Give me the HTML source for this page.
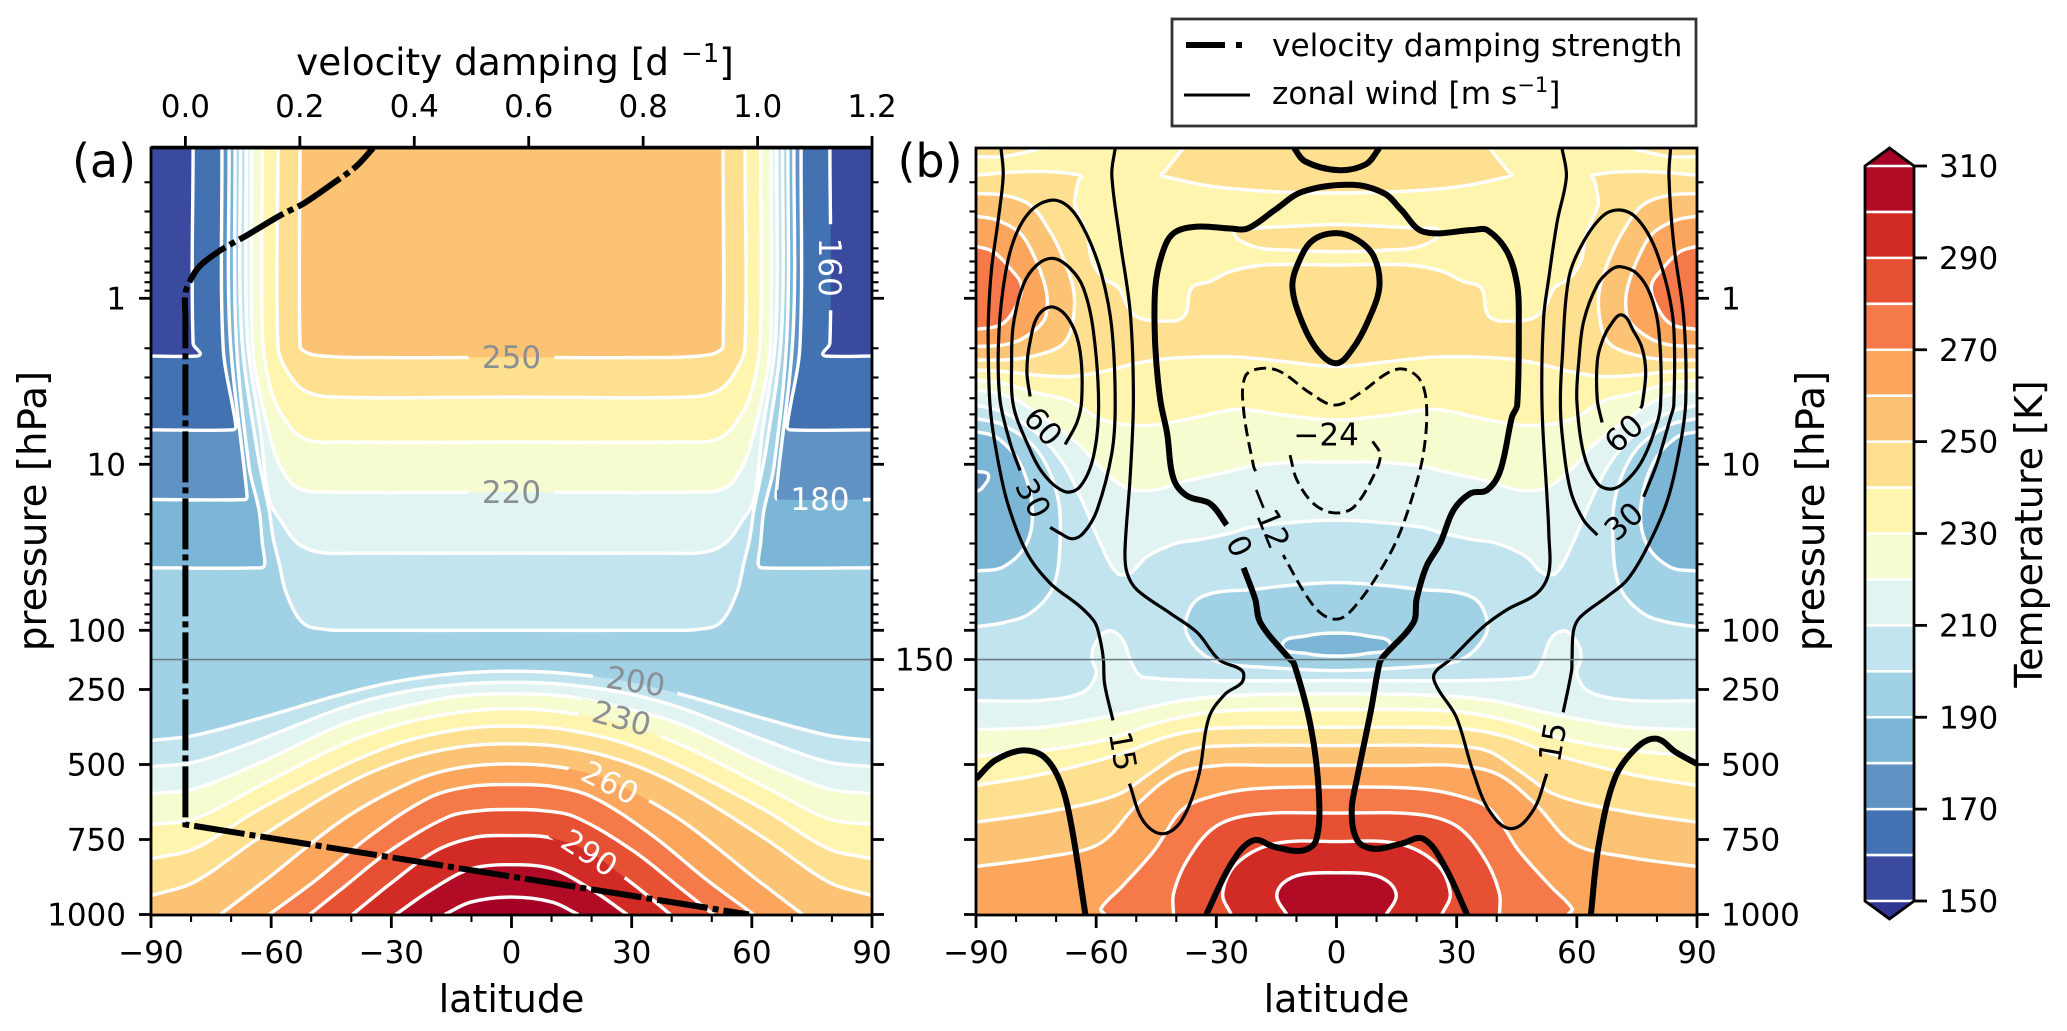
<!DOCTYPE html>
<html lang="en">
<head>
<meta charset="utf-8">
<title>Temperature, zonal wind and velocity damping</title>
<style>
html,body{margin:0;padding:0;background:#fff;width:2067px;height:1031px;overflow:hidden}
svg{display:block}
text{font-family:"DejaVu Sans","Liberation Sans",sans-serif;fill:#000}
</style>
</head>
<body>
<svg id="figure" width="2067" height="1031" viewBox="0 0 2067 1031">
  <defs>
    <clipPath id="clip-a"><rect x="151" y="148" width="721" height="767"/></clipPath>
    <clipPath id="clip-b"><rect x="976" y="148" width="721" height="767"/></clipPath>
  </defs>
  <g id="panel-a"></g>
  <g id="panel-b"></g>
  <g id="colorbar"></g>
  <g id="legend">
    <rect x="1172" y="19" width="524" height="107" fill="#fff" stroke="#333" stroke-width="2.8"/>
    <path d="M1186 45H1225M1236 45H1242" stroke="#000" stroke-width="6" fill="none"/>
    <text x="1272" y="56" font-size="31.2">velocity damping strength</text>
    <path d="M1184 95H1250" stroke="#000" stroke-width="3" fill="none"/>
    <text x="1272" y="104" font-size="31.2">zonal wind [m s<tspan dy="-12" font-size="21">−1</tspan><tspan dy="12">]</tspan></text>
  </g>
</svg>
<script>
/* ---------- shared axis data ---------- */
const latTicks = [-90, -60, -30, 0, 30, 60, 90];
const latMinorTicks = [-80, -70, -50, -40, -20, -10, 10, 20, 40, 50, 70, 80];
const pressureTicks = [1, 10, 100, 250, 500, 750, 1000];
const pressureMinorTicks = [0.2, 0.3, 0.4, 0.5, 0.6, 0.7, 0.8, 0.9, 2, 3, 4, 5, 6, 7, 8, 9, 20, 30, 40, 50, 60, 70, 80, 90];
const dampingTicks = [0.0, 0.2, 0.4, 0.6, 0.8, 1.0, 1.2];
const colorbarLevels = [150, 160, 170, 180, 190, 200, 210, 220, 230, 240, 250, 260, 270, 280, 290, 300, 310];
const colorbarTicks = [150, 170, 190, 210, 230, 250, 270, 290, 310];

/* ---------- velocity damping profile (panel a) ---------- */
const dampPressure = [0.1245, 0.161, 0.203, 0.268, 0.315, 0.416, 0.512, 0.63, 0.741, 0.93, 1.3, 700, 1000];
const dampRate = [0.328, 0.298, 0.258, 0.207, 0.167, 0.108, 0.062, 0.027, 0.012, 0, 0, 0, 0.985];

/* ---------- panel (a) temperature contours: [latitude, hPa] ---------- */
const aSide160 = [[-79.5,0.1245],[-79.5,1.86],[-77.7,2.15],[-78.4,2.23],[-90,2.23]];
const aSide170 = [[-72.3,0.1245],[-72,1.96],[-68.8,5.9],[-69.5,6.2],[-90,6.2]];
const aSide180 = [[-70.5,0.1245],[-70.3,1.62],[-66,15.6],[-66.5,16.3],[-90,16.3]];
const aSide190 = [[-69,0.1245],[-68.8,1.62],[-65.5,10.4],[-63,19],[-62.2,30],[-61.6,40],[-62.5,42],[-90,42]];
const aBox200 = [[-67.7,0.1245],[-67.4,1.62],[-63.5,8.2],[-60.5,19],[-59.5,27.9],[-58,39.5],[-56.2,60],[-51.9,91],[-46.1,99],[-40.4,100],[0,100]];
const aBox210 = [[-66.2,0.1245],[-66,1.62],[-62.6,6.5],[-60.5,16.4],[-57.6,21.9],[-53.3,30],[-47.6,34],[-39,34.3],[0,34.3]];
const aBox220 = [[-64.8,0.1245],[-64.8,1.5],[-64.1,2.59],[-60.5,6.5],[-57.6,10.4],[-53.3,13.9],[-44.7,14.7],[0,14.7]];
const aBox230 = [[-62.2,0.1245],[-62.2,1.62],[-60.5,3.24],[-57.6,4.9],[-51.9,6.97],[-41.8,7.34],[0,7.34]];
const aBox240 = [[-58.3,0.1245],[-58.3,1.96],[-56.2,2.7],[-51.9,3.57],[-44.7,3.93],[0,3.93]];
const aBox250 = [[-52.8,0.1245],[-52.8,1.95],[-51.5,2.1],[-49,2.2],[-40,2.27],[0,2.27]];
const aBell200 = [[-90,420],[-79.2,403],[-63.4,348],[-41.8,264],[-27.4,220],[-13.1,196],[0,189]];
const aBell210 = [[-90,507],[-79.2,492],[-63.4,420],[-41.8,309],[-27.4,259],[-13.1,233],[0,226]];
const aBell220 = [[-90,598],[-79.2,581],[-63.4,498],[-41.8,364],[-27.4,309],[-13.1,272],[0,264]];
const aBell230 = [[-90,700],[-79.2,681],[-63.4,575],[-41.8,431],[-27.4,364],[-13.1,326],[0,314]];
const aBell240 = [[-90,814],[-79.2,781],[-63.4,653],[-41.8,503],[-27.4,426],[-13.1,383],[0,372]];
const aBell250 = [[-90,937],[-79.2,892],[-63.4,748],[-41.8,570],[-27.4,487],[-13.1,442],[0,431]];
const aBell260 = [[-72.7,1000],[-60.5,876],[-41.8,681],[-24.6,556],[-13.1,511],[0,498]];
const aBell270 = [[-60.5,1000],[-49,887],[-34.6,731],[-20.3,609],[-10.2,573],[0,567]];
const aBell280 = [[-50.4,1000],[-41.8,908],[-30.3,787],[-15.9,675],[-7.3,653],[0,650]];
const aBell290 = [[-39.7,1000],[-30.3,898],[-18.8,787],[-8.8,742],[0,737]];
const aBell300 = [[-28.9,1000],[-20.3,920],[-10.2,848],[0,834]];
const aBell310 = [[-16.7,1000],[-10.2,959],[0,942]];
const aLabelText = ['250', '220', '160', '180', '200', '230', '260', '290'];
const aLabelLat = [0, 0, 79.5, 77, 31, 27.5, 24.6, 19.5];
const aLabelPressure = [2.25, 14.7, 0.65, 16.2, 222, 345, 560, 794];

/* ---------- panel (b) temperature contours ---------- */
const bUpper210 = [[-90,4.4],[-83.2,4.85],[-74.8,6.5],[-68.2,9.9],[-63.2,17.2],[-59,29.8],[-54.8,45.2],[-51.5,45.2],[-47.3,36],[-39.8,29.8],[-34,28.4],[-26.5,26],[-21.6,24],[-9.1,22.2],[0,21.7]];
const bUpper220 = [[-90,3.57],[-84.8,3.72],[-79.8,4.1],[-72.3,5.41],[-64.8,7.4],[-58.2,10.9],[-52.3,13.9],[-45.7,14.3],[-38.2,12.7],[-26.5,11],[-21.6,10.3],[-10.8,9.7],[0,9.7]];
const bUpper230 = [[-90,3.11],[-83.2,3.25],[-74.8,3.72],[-67.3,4.1],[-58.2,5.41],[-48.2,5.85],[-38.2,5.41],[-26.5,4.71],[-21.6,4.71],[-13.3,5.05],[0,5.41]];
const bZone240Bottom = [[-90,2.7],[-83.2,2.76],[-74.8,2.9],[-66.5,2.96],[-58.2,2.76],[-49.8,2.46],[-41.5,2.3],[-26,2.25],[-13.3,2.4],[0,2.58]];
const bZone240Top = [[-90,0.181],[-79,0.173],[-70.7,0.173],[-64.6,0.18],[-63.6,0.185],[-64.3,0.193],[-65,0.228],[-65.3,0.274],[-62.3,0.416],[-61,0.6],[-58.2,0.755],[-54.4,0.865],[-52.3,1.1],[-49.8,1.29],[-44.8,1.37],[-38.2,1.29],[-36.1,0.865],[-31.5,0.79],[-26.5,0.69],[-18,0.63],[0,0.63]];
const bTop240 = [[-38.2,0.1245],[-43,0.173],[-43.8,0.181],[-42.8,0.185],[-32,0.21],[-18,0.226],[0,0.232]];
const bCorner240 = [[-90,0.14],[-83.2,0.14],[-73.2,0.1245]];
const bLens240 = [[-25.6,0.397],[-20.8,0.486],[-12.6,0.512],[0,0.524],[12.6,0.512],[20.8,0.486],[25.6,0.397],[20.8,0.38],[9.9,0.367],[0,0.36],[-9.9,0.367],[-20.8,0.38]];
const bPolar250 = [[-90,0.234],[-83.2,0.239],[-76.5,0.274],[-71.5,0.397],[-68.2,0.575],[-65.7,0.873],[-65.5,1.21],[-66.9,1.7],[-69.8,2.0],[-76.5,2.25],[-83.2,2.35],[-90,2.35]];
const bPolar260 = [[-90,0.32],[-84.8,0.338],[-79,0.406],[-75.7,0.546],[-72.8,0.832],[-72.2,1.1],[-73.2,1.38],[-78.2,1.74],[-83.2,1.91],[-90,1.95]];
const bPolar270 = [[-90,0.486],[-85.7,0.524],[-81.5,0.66],[-78.6,0.85],[-80.7,1.2],[-84,1.45],[-90,1.54]];
const bPolar200 = [[-90,5.3],[-83.2,5.8],[-74.8,8.2],[-69.8,15],[-69,28.4],[-70.7,54.5],[-76.5,79],[-83.2,90],[-90,95]];
const bPolar190 = [[-90,6.35],[-84.8,6.9],[-79,9.9],[-76,18],[-77.3,29.8],[-83.2,41.5],[-90,44]];
const bPolar180 = [[-90,11],[-86.9,11.6],[-88.6,14],[-90,14.6]];
const bCentre200 = [[0,51.6],[-13,54],[-21.6,57],[-30,59],[-35,66],[-37.5,85],[-37.3,106],[-33.2,140],[-27.7,164],[-18.1,176],[0,187]];
const bCentre190 = [[0,104],[-7.4,108],[-13.5,123],[-7.4,138],[0,143]];
const bLower210 = [[-90,287],[-74.3,287],[-63.3,259],[-60,198],[-61,150],[-60.6,125],[-57.2,101],[-53.7,111],[-51.5,150],[-50,190],[-48.3,209],[-31.8,220],[0,220]];
const bLower220 = [[-90,384],[-72.9,375],[-53.7,331],[-38.7,287],[-25,270],[0,264]];
const bLower230 = [[-90,472],[-72.9,453],[-56.5,414],[-45.5,364],[-31.8,326],[-18.1,317],[0,317]];
const bLower240 = [[-90,570],[-72.9,531],[-53.7,464],[-42.8,409],[-31.8,381],[-18.1,376],[0,376]];
const bLower250 = [[-90,692],[-72.9,659],[-55.1,603],[-45.5,520],[-37.3,453],[-25,437],[0,437]];
const bLower260 = [[-90,840],[-72.9,809],[-59.2,764],[-49.6,631],[-40,531],[-29,503],[-18.1,503],[0,503]];
const bLower270 = [[-57.8,1000],[-58.8,980],[-53.7,909],[-45.5,787],[-38.7,653],[-31.8,609],[-20.8,581],[0,575]];
const bLower280 = [[-40.7,1000],[-40.7,931],[-37.3,820],[-30.4,709],[-20.8,667],[0,662]];
const bLower290 = [[-26.3,1000],[-28.4,931],[-25,831],[-15.4,764],[0,757]];
const bLower300 = [[-12.4,1000],[-14.9,940],[-13.3,895],[-8.5,866],[0,861]];

/* ---------- panel (b) zonal wind contours ---------- */
const windZeroTop = [[-10.6,0.1245],[-7.8,0.15],[0.4,0.169],[7.3,0.156],[10.7,0.1245]];
const windZeroEgg = [[0,0.405],[-5.8,0.445],[-9.2,0.588],[-11,0.85],[-8.5,1.41],[-4.4,2.1],[0,2.46],[3.8,2.05],[8,1.35],[10.7,0.85],[9.3,0.56],[5.2,0.445]];
const windZeroA = [[-32.5,1000],[-26.3,831],[-20.8,753],[-15.4,775],[-8.5,787],[-5.1,753],[-4.4,598],[-6.4,376],[-10.6,164],[-12,146],[-19,90],[-20.3,65],[-23.2,42]];
const windZeroB = [[-27.4,23.2],[-31.5,17.3],[-37.3,15.5],[-40.7,12.2],[-42.3,6.5],[-44,4.1],[-45.25,1.91],[-45.25,0.873],[-43.6,0.546],[-40.7,0.406],[-34.8,0.37],[-26.5,0.38],[-22.2,0.38],[-15.4,0.294],[-8.5,0.228],[3.8,0.207],[12,0.234],[16.2,0.294],[21.7,0.397],[34,0.388],[37.6,0.388],[42.6,0.524],[45.1,0.83],[45.5,1.32],[45.1,4.4],[43.8,5.2],[40.9,10.9],[37.6,14.3],[33.4,15],[29.2,18.9],[25.9,29.8],[22.5,41],[20,65],[19.2,90],[11.7,144],[10.7,164],[8.6,320],[5.2,542],[3.8,653],[5.2,753],[9.3,781],[16.2,764],[21.7,748],[27.1,842],[32.6,1000]];
const windZeroLeft = [[-90,548],[-85.3,487],[-78.4,453],[-72.9,476],[-68.8,564],[-66.1,709],[-62.7,1000]];
const windZeroRight = [[63.5,1000],[65.5,764],[69.6,542],[75.1,442],[79.9,414],[84.7,459],[90,498]];
const wind15LeftA = [[-83.75,0.1245],[-83.2,0.181],[-84.4,0.33],[-86.1,0.66],[-86.9,1.32],[-86.9,2.4],[-86.5,4.4],[-85.3,7.4],[-82.3,16.5],[-77.3,34.2],[-71.5,52],[-64,72],[-60.3,90],[-59,114],[-58.2,150],[-57.9,231],[-55.8,353]];
const wind15LeftB = [[-51.7,564],[-48.3,687],[-43.5,731],[-38.7,687],[-34.5,542],[-31.8,342],[-27.7,264],[-23.6,226],[-23.6,187],[-29.3,151],[-34.8,103],[-41.5,79],[-49.8,57],[-52.3,45],[-52.8,33],[-51.5,11.8],[-50.7,4.1],[-51.5,1.21],[-54,0.455],[-56.1,0.181],[-55.25,0.1245]];
const wind15RightA = [[56.3,0.1245],[57.4,0.185],[55.1,0.345],[53,0.755],[51.7,1.32],[51.3,4.4],[52.6,16.5],[53,26],[53,45],[50,60],[42.6,75],[36.7,95],[28.4,150],[24.4,198],[25.1,242],[29.9,342],[34,520],[38.1,653],[43.6,714],[49.1,653],[52.5,531]];
const wind15RightB = [[56.6,326],[58.7,187],[58.8,150],[59.2,100],[60.9,83],[67.6,62.6],[72.6,49.6],[77.6,31.5],[82.6,16.5],[85.9,7.4],[87.2,4.1],[86.7,1.32],[84.2,0.477],[83,0.187],[83.4,0.1245]];
const wind30Left = [[-79,10.9],[-81.5,7.4],[-84,4.1],[-84.4,1.91],[-83.2,0.865],[-80.7,0.455],[-76.5,0.3],[-71,0.256],[-66.5,0.287],[-62.3,0.416],[-58.6,0.726],[-56.1,1.51],[-55.25,4.4],[-56.1,8.6],[-59.8,18.9],[-63.2,26],[-66,28.1],[-69,26],[-71.5,24]];
const wind45Left = [[-70.7,0.575],[-66.5,0.66],[-63.2,0.865],[-60.7,1.58],[-59.4,4.4],[-60.7,9],[-64,13.6],[-67.8,14.6],[-73.2,11.4],[-77.3,7.4],[-80.7,4.4],[-81.1,2.4],[-80.7,1.45],[-78.2,0.83],[-74.8,0.63]];
const wind60Left = [[-67.75,7.6],[-64.8,5.6],[-63.6,4.1],[-64,2.1],[-66.5,1.38],[-70.7,1.13],[-74.4,1.26],[-76.5,1.82],[-77.3,2.76],[-76.5,3.9]];
const wind30Right = [[65.1,26.7],[61.7,21.7],[58.4,14.3],[56.3,6.5],[55.9,4.1],[56.3,2.4],[58,0.755],[61.7,0.455],[66.7,0.316],[70.9,0.294],[75,0.33],[79.2,0.477],[82.6,0.865],[84.2,1.51],[84.2,4.4],[83.4,5.2],[80,9.9],[76.7,15.7]];
const wind45Right = [[70.9,0.645],[75,0.71],[78.4,0.955],[80.5,1.58],[80.9,4.4],[79.2,6.5],[75.9,9.9],[71.7,13],[68.4,14.1],[65.1,13],[61.7,8.6],[60,4.1],[60.5,2.4],[61.7,1.38],[65.1,0.83],[68.4,0.676]];
const wind60Right = [[66.3,5.6],[65.1,4.1],[65.1,2.4],[66.3,1.82],[68.4,1.45],[71.3,1.26],[74.2,1.58],[76.3,2],[77.2,2.8],[76.3,4.4],[75.9,4.6]];
const windMinus12 = [[-20.2,11],[-20.7,10.3],[-23.2,4.71],[-22.8,2.96],[-19.1,2.65],[-14.1,2.76],[-6.6,3.72],[-0.4,4.4],[5.9,3.72],[12.6,2.83],[16.7,2.67],[20.9,3.11],[22.5,4.5],[21.7,8.6],[19.2,15],[15.1,28.4],[10,47.5],[5,70],[0.9,85],[-3.3,81],[-7.4,62.6],[-13.3,35.2]];
const windMinus24 = [[-11.6,8.8],[-9.9,12.4],[-5.8,17.2],[-0.8,19.6],[4.2,18.2],[9.2,11.8],[10.9,8.8],[8.8,7.14]];
const windLabelText = ['60', '30', '60', '30', '15', '15', '0', '−12', '−24'];
const windLabelLat = [-73.2, -75.7, 71.7, 71.7, -53.3, 53.9, -24.2, -17, -2.6];
const windLabelPressure = [5.9, 16, 6.5, 22, 455, 425, 31, 20.7, 6.6];

/* ---------- palette, keyed by the band's lower temperature ---------- */
const bandColors = {140:'#313695',150:'#3a4b9f',160:'#4272b2',170:'#6092c3',180:'#7bb6d6',190:'#a1d1e5',200:'#c2e4ef',210:'#e2f4f1',220:'#f6fbd0',230:'#fff5ae',240:'#fee090',250:'#fdc374',260:'#fca55d',270:'#f67a49',280:'#e65133',290:'#d22b26',300:'#b10b26',310:'#a50026'};

/* ---------- axis functions ---------- */
const TOP_P = 0.1245, BOTTOM_P = 1000;
function xA(lat){ return 151 + (lat + 90) * 721 / 180; }
function xB(lat){ return 976 + (lat + 90) * 721 / 180; }
function yP(p){ return p <= 150 ? 298.3 + 166 * Math.log10(p) : 659.5 + (p - 150) * 0.3; }
function xDamp(d){ return 185.4 + d * 572.2; }
function yCbar(t){ return 901 - (t - 150) * 735 / 160; }

/* ---------- helpers ---------- */
const root = document.getElementById('figure');
function make(parent, tag, attrs, text){
  const el = document.createElementNS(root.namespaceURI, tag);
  for (const k in attrs) el.setAttribute(k, attrs[k]);
  if (text !== undefined) el.textContent = text;
  parent.appendChild(el);
  return el;
}
function tag(el, name){
  
  
  return el;
}
function mirror(half){
  const right = half.slice().reverse().filter(q => q[0] !== 0).map(q => [-q[0], q[1]]);
  return half.concat(right);
}
function mirrorClosed(half){ return mirror(half); }
function flip(pts){ return pts.map(q => [-q[0], q[1]]); }
function curve(px, closed){
  const n = px.length, tan = [];
  for (let i = 0; i < n; i++){
    const a = closed ? px[(i - 1 + n) % n] : px[Math.max(i - 1, 0)];
    const b = closed ? px[(i + 1) % n] : px[Math.min(i + 1, n - 1)];
    const dx = b[0] - a[0], dy = b[1] - a[1], len = Math.hypot(dx, dy) || 1;
    tan.push([dx / len, dy / len]);
  }
  let d = 'M' + px[0][0].toFixed(1) + ' ' + px[0][1].toFixed(1);
  const segs = closed ? n : n - 1;
  for (let i = 0; i < segs; i++){
    const j = (i + 1) % n;
    const L = Math.hypot(px[j][0] - px[i][0], px[j][1] - px[i][1]) / 3;
    d += 'C' + (px[i][0] + tan[i][0] * L).toFixed(1) + ' ' + (px[i][1] + tan[i][1] * L).toFixed(1) + ' ' +
      (px[j][0] - tan[j][0] * L).toFixed(1) + ' ' + (px[j][1] - tan[j][1] * L).toFixed(1) + ' ' +
      px[j][0].toFixed(1) + ' ' + px[j][1].toFixed(1);
  }
  return closed ? d + 'Z' : d;
}
function toPx(pts, xf){ return pts.map(q => [xf(q[0]), yP(q[1])]); }
function area(g, pts, level, closers, xf, name){
  let d = curve(toPx(pts, xf), false);
  (closers || []).forEach(c => { d += 'L' + xf(c[0]).toFixed(1) + ' ' + yP(c[1]).toFixed(1); });
  d += 'Z';
  const el = make(g, 'path', {d: d, fill: bandColors[level]});
  tag(el, name);
}
function blob(g, pts, level, xf, name){
  const el = make(g, 'path', {d: curve(toPx(pts, xf), true), fill: bandColors[level]});
  tag(el, name);
}
function line(g, pts, xf, stroke, width, name, extra){
  const attrs = {d: curve(toPx(pts, xf), false), fill: 'none', stroke: stroke, 'stroke-width': width, 'stroke-linejoin': 'round'};
  for (const k in (extra || {})) attrs[k] = extra[k];
  const el = make(g, 'path', attrs);
  tag(el, name);
}
function ring(g, pts, xf, stroke, width, name){
  const el = make(g, 'path', {d: curve(toPx(pts, xf), true), fill: 'none', stroke: stroke, 'stroke-width': width});
  tag(el, name);
}
function tickLine(g, x1, y1, x2, y2, w, name){
  const el = make(g, 'line', {x1: x1, y1: y1, x2: x2, y2: y2, stroke: '#000', 'stroke-width': w});
  tag(el, name);
}
function txt(g, x, y, s, size, anchor, name, fill){
  const el = make(g, 'text', {x: x, y: y, 'font-size': size, 'text-anchor': anchor}, s);
  if (fill) el.style.fill = fill;
  tag(el, name);
  return el;
}
function fmtLat(v){ return v < 0 ? '−' + Math.abs(v) : String(v); }
function vText(g, x, y, s, size, name){
  const el = make(g, 'text', {transform: 'translate(' + x + ' ' + y + ') rotate(-90)', 'font-size': size, 'text-anchor': 'middle'}, s);
  tag(el, name);
}

const TICK_FONT = 31, LABEL_FONT = 38;
const WHITE_W = 3.4, THIN_W = 3.2, THICK_W = 6;

/* shared bottom axis + pressure ticks */
function axes(g, xf, left, right, sideName){
  latTicks.forEach(v => {
    tickLine(g, xf(v), 915, xf(v), 928, 2.8, sideName + '-x-tick');
    txt(g, xf(v), 963, fmtLat(v), TICK_FONT, 'middle', sideName + '-x-tick-label');
  });
  latMinorTicks.forEach(v => { tickLine(g, xf(v), 915, xf(v), 922, 2.1, sideName + '-x-minor-tick'); });
  pressureMinorTicks.forEach(p => {
    tickLine(g, left, yP(p), left - 6.5, yP(p), 2.1, sideName + '-left-minor-tick');
    tickLine(g, right, yP(p), right + 6.5, yP(p), 2.1, sideName + '-right-minor-tick');
  });
  pressureTicks.forEach(p => {
    tickLine(g, left, yP(p), left - 12, yP(p), 2.8, sideName + '-left-tick');
    tickLine(g, right, yP(p), right + 12, yP(p), 2.8, sideName + '-right-tick');
  });
}

/* ---------- panel (a) ---------- */
(function(){
  const g = document.getElementById('panel-a');
  const plot = make(g, 'g', {'clip-path': 'url(#clip-a)'});
  tag(plot, 'panel-a-plot');
  const bg = make(plot, 'rect', {x: 151, y: 148, width: 721, height: 767, fill: bandColors[190]});
  tag(bg, 'panel-a-background');
  const sides = [[aSide190, 180], [aSide180, 170], [aSide170, 160], [aSide160, 150]];
  sides.forEach(s => {
    area(plot, s[0], s[1], [[-90, TOP_P]], xA, 'temperature-band-' + s[1] + '-left');
    area(plot, flip(s[0]), s[1], [[90, TOP_P]], xA, 'temperature-band-' + s[1] + '-right');
  });
  const boxes = [[aBox200, 200], [aBox210, 210], [aBox220, 220], [aBox230, 230], [aBox240, 240], [aBox250, 250]];
  boxes.forEach(b => area(plot, mirror(b[0]), b[1], [], xA, 'temperature-band-' + b[1] + '-stratosphere'));
  const bells = [[aBell200, 200], [aBell210, 210], [aBell220, 220], [aBell230, 230], [aBell240, 240], [aBell250, 250], [aBell260, 260], [aBell270, 270], [aBell280, 280], [aBell290, 290], [aBell300, 300], [aBell310, 310]];
  bells.forEach(b => area(plot, mirror(b[0]), b[1], [[90, BOTTOM_P], [-90, BOTTOM_P]], xA, 'temperature-band-' + b[1] + '-troposphere'));

  /* white contour lines with label gaps */
  const labelAngle = [0, 0, 90, 0, 9, 15, 27, 33];
  const defs = make(plot, 'mask', {id: 'gap-a', maskUnits: 'userSpaceOnUse', x: 0, y: 0, width: 2067, height: 1031});
  make(defs, 'rect', {x: 0, y: 0, width: 2067, height: 1031, fill: '#fff'});
  aLabelText.forEach((s, i) => {
    make(defs, 'rect', {x: -43, y: -9, width: 86, height: 18, fill: '#000', transform: 'translate(' + xA(aLabelLat[i]) + ' ' + yP(aLabelPressure[i]) + ') rotate(' + labelAngle[i] + ')'});
  });
  const lines = make(plot, 'g', {mask: 'url(#gap-a)'});
  tag(lines, 'temperature-contours');
  sides.forEach(s => {
    line(lines, s[0], xA, '#fff', WHITE_W, 'temperature-contour-left');
    line(lines, flip(s[0]), xA, '#fff', WHITE_W, 'temperature-contour-right');
  });
  boxes.forEach(b => line(lines, mirror(b[0]), xA, '#fff', WHITE_W, 'temperature-contour-' + b[1]));
  bells.forEach(b => line(lines, mirror(b[0]), xA, '#fff', WHITE_W, 'temperature-contour-' + b[1]));

  const labelColor = ['#8a8f94', '#8a8f94', '#fff', '#fff', '#8a8f94', '#8a8f94', '#fff', '#fff'];
  aLabelText.forEach((s, i) => {
    const el = make(plot, 'text', {transform: 'translate(' + xA(aLabelLat[i]) + ' ' + yP(aLabelPressure[i]) + ') rotate(' + labelAngle[i] + ')', y: 11, 'font-size': TICK_FONT, 'text-anchor': 'middle'}, s);
    el.style.fill = labelColor[i];
    tag(el, 'contour-label-' + s);
  });

  /* 150 hPa separator */
  const sep = make(g, 'line', {x1: 151, x2: 872, y1: yP(150), y2: yP(150), stroke: '#6d7c86', 'stroke-width': 1.6});
  tag(sep, 'panel-a-150hpa-line');

  /* damping profile */
  const last = dampRate.length - 1;
  const upper = dampRate.slice(0, last).map((d, i) => [xDamp(d), yP(dampPressure[i])]);
  const dampD = curve(upper, false) + 'L' + xDamp(dampRate[last]).toFixed(1) + ' ' + yP(dampPressure[last]).toFixed(1);
  const damp = make(plot, 'path', {d: dampD, fill: 'none', stroke: '#000', 'stroke-width': 6, 'stroke-dasharray': '51 5 6 5', 'stroke-dashoffset': 22});
  tag(damp, 'velocity-damping-line');

  /* frame + axes */
  const frame = make(g, 'rect', {x: 151, y: 148, width: 721, height: 767, fill: 'none', stroke: '#000', 'stroke-width': 2.8});
  tag(frame, 'panel-a-frame');
  const topSpine = make(g, 'line', {x1: 151, x2: 872, y1: 147.5, y2: 147.5, stroke: '#000', 'stroke-width': 3.4});
  tag(topSpine, 'panel-a-top-spine');
  axes(g, xA, 151, 872, 'panel-a');
  tickLine(g, 872, yP(150), 884, yP(150), 2.8, 'panel-a-150hpa-tick');
  pressureTicks.forEach(p => txt(g, 126, yP(p) + 11, String(p), TICK_FONT, 'end', 'panel-a-y-tick-label'));
  dampingTicks.forEach(d => {
    tickLine(g, xDamp(d), 148, xDamp(d), 136, 2.8, 'damping-tick');
    txt(g, xDamp(d), 117, d.toFixed(1), TICK_FONT, 'middle', 'damping-tick-label');
  });
  txt(g, 511.5, 1012, 'latitude', LABEL_FONT, 'middle', 'panel-a-x-axis-title');
  vText(g, 46, 511, 'pressure [hPa]', 38.8, 'panel-a-y-axis-title');
  const top = txt(g, 515, 75, 'velocity damping [d ', 37.4, 'middle', 'damping-axis-title');
  make(top, 'tspan', {dy: -13, 'font-size': 26}, '−1');
  make(top, 'tspan', {dy: 13}, ']');
  txt(g, 104, 177, '(a)', 46, 'middle', 'panel-a-letter');
})();

/* ---------- panel (b) ---------- */
(function(){
  const g = document.getElementById('panel-b');
  const plot = make(g, 'g', {'clip-path': 'url(#clip-b)'});
  tag(plot, 'panel-b-plot');
  const bg = make(plot, 'rect', {x: 976, y: 148, width: 721, height: 767, fill: bandColors[200]});
  tag(bg, 'panel-b-background');
  const topClose = [[90, TOP_P], [-90, TOP_P]];
  area(plot, mirror(bUpper210), 210, topClose, xB, 'temperature-band-210-upper');
  area(plot, mirror(bUpper220), 220, topClose, xB, 'temperature-band-220-upper');
  area(plot, mirror(bUpper230), 230, topClose, xB, 'temperature-band-230-upper');

  /* 240 K zone bounded by a top and a bottom contour */
  const zoneTop = mirror(bZone240Top);
  const zoneBot = mirror(bZone240Bottom).reverse();
  const zoneD = curve(toPx(zoneTop, xB), false) + curve(toPx(zoneBot, xB), false).replace(/^M/, 'L') + 'Z';
  const zone = make(plot, 'path', {d: zoneD, fill: bandColors[240]});
  tag(zone, 'temperature-band-240-zone');
  area(plot, mirror(bTop240), 240, [], xB, 'temperature-band-240-top');
  area(plot, bCorner240, 240, [[-90, TOP_P]], xB, 'temperature-band-240-corner-left');
  area(plot, flip(bCorner240), 240, [[90, TOP_P]], xB, 'temperature-band-240-corner-right');
  blob(plot, bLens240, 240, xB, 'temperature-band-240-lens');

  const polarWarm = [[bPolar250, 250], [bPolar260, 260], [bPolar270, 270]];
  polarWarm.forEach(p => {
    area(plot, p[0], p[1], [], xB, 'polar-warm-band-' + p[1] + '-left');
    area(plot, flip(p[0]), p[1], [], xB, 'polar-warm-band-' + p[1] + '-right');
  });
  const polarCold = [[bPolar200, 190], [bPolar190, 180]];
  polarCold.forEach(p => {
    area(plot, p[0], p[1], [], xB, 'polar-cold-band-' + p[1] + '-left');
    area(plot, flip(p[0]), p[1], [], xB, 'polar-cold-band-' + p[1] + '-right');
  });
  area(plot, bPolar180, 170, [], xB, 'polar-cold-band-170-left');
  blob(plot, mirrorClosed(bCentre200), 190, xB, 'tropical-cold-band-190');
  blob(plot, mirrorClosed(bCentre190), 180, xB, 'tropical-cold-band-180');

  const lowers = [[bLower210, 210], [bLower220, 220], [bLower230, 230], [bLower240, 240], [bLower250, 250], [bLower260, 260], [bLower270, 270], [bLower280, 280], [bLower290, 290], [bLower300, 300]];
  const bottomClose = [[90, BOTTOM_P], [-90, BOTTOM_P]];
  lowers.forEach(c => area(plot, mirror(c[0]), c[1], bottomClose, xB, 'temperature-band-' + c[1] + '-lower'));

  /* white isotherms */
  const w = make(plot, 'g', {});
  tag(w, 'temperature-contours-b');
  [bUpper210, bUpper220, bUpper230, bZone240Bottom, bZone240Top, bTop240].forEach(c => line(w, mirror(c), xB, '#fff', WHITE_W, 'isotherm-upper'));
  line(w, bCorner240, xB, '#fff', WHITE_W, 'isotherm-corner-left');
  line(w, flip(bCorner240), xB, '#fff', WHITE_W, 'isotherm-corner-right');
  ring(w, bLens240, xB, '#fff', WHITE_W, 'isotherm-lens');
  [bPolar250, bPolar260, bPolar270, bPolar200, bPolar190].forEach(c => {
    line(w, c, xB, '#fff', WHITE_W, 'isotherm-polar-left');
    line(w, flip(c), xB, '#fff', WHITE_W, 'isotherm-polar-right');
  });
  line(w, bPolar180, xB, '#fff', WHITE_W, 'isotherm-polar-180');
  ring(w, mirrorClosed(bCentre200), xB, '#fff', WHITE_W, 'isotherm-tropical-200');
  ring(w, mirrorClosed(bCentre190), xB, '#fff', WHITE_W, 'isotherm-tropical-190');
  lowers.forEach(c => line(w, mirror(c[0]), xB, '#fff', WHITE_W, 'isotherm-lower-' + c[1]));

  const sep = make(g, 'line', {x1: 976, x2: 1697, y1: yP(150), y2: yP(150), stroke: '#6d7c86', 'stroke-width': 1.6});
  tag(sep, 'panel-b-150hpa-line');

  /* wind contours */
  const wind = make(plot, 'g', {});
  tag(wind, 'zonal-wind-contours');
  [windZeroTop, windZeroA, windZeroB, windZeroLeft, windZeroRight].forEach(c => line(wind, c, xB, '#000', THICK_W, 'zonal-wind-zero'));
  ring(wind, windZeroEgg, xB, '#000', THICK_W, 'zonal-wind-zero-loop');
  [wind15LeftA, wind15LeftB, wind15RightA, wind15RightB].forEach(c => line(wind, c, xB, '#000', THIN_W, 'zonal-wind-15'));
  [wind30Left, wind30Right].forEach(c => line(wind, c, xB, '#000', THIN_W, 'zonal-wind-30'));
  [wind60Left, wind60Right].forEach(c => line(wind, c, xB, '#000', THIN_W, 'zonal-wind-60'));
  ring(wind, wind45Left, xB, '#000', THIN_W, 'zonal-wind-45-left');
  ring(wind, wind45Right, xB, '#000', THIN_W, 'zonal-wind-45-right');
  line(wind, windMinus12, xB, '#000', 2.9, 'zonal-wind-minus-12', {'stroke-dasharray': '12 6'});
  line(wind, windMinus24, xB, '#000', 2.9, 'zonal-wind-minus-24', {'stroke-dasharray': '12 6'});
  const windAngle = [48, 62, -42, -42, 80, -80, 65, 68, 0];
  windLabelText.forEach((s, i) => {
    const el = make(plot, 'text', {transform: 'translate(' + xB(windLabelLat[i]) + ' ' + yP(windLabelPressure[i]) + ') rotate(' + windAngle[i] + ')', y: 11, 'font-size': TICK_FONT, 'text-anchor': 'middle'}, s);
    tag(el, 'wind-label-' + s);
  });

  const frame = make(g, 'rect', {x: 976, y: 148, width: 721, height: 767, fill: 'none', stroke: '#000', 'stroke-width': 2.8});
  tag(frame, 'panel-b-frame');
  axes(g, xB, 976, 1697, 'panel-b');
  tickLine(g, 976, yP(150), 964, yP(150), 2.8, 'panel-b-150hpa-tick');
  txt(g, 954, yP(150) + 11, '150', TICK_FONT, 'end', 'panel-b-150-label');
  pressureTicks.forEach(p => txt(g, 1721, yP(p) + 11, String(p), TICK_FONT, 'start', 'panel-b-y-tick-label'));
  txt(g, 1336.5, 1012, 'latitude', LABEL_FONT, 'middle', 'panel-b-x-axis-title');
  vText(g, 1824, 511, 'pressure [hPa]', 38.8, 'panel-b-y-axis-title');
  txt(g, 930, 177, '(b)', 46, 'middle', 'panel-b-letter');
})();

/* ---------- colorbar ---------- */
(function(){
  const g = document.getElementById('colorbar');
  const L = 1865, R = 1914, M = (L + R) / 2;
  const topTip = make(g, 'polygon', {points: L + ',' + yCbar(310) + ' ' + M + ',148 ' + R + ',' + yCbar(310), fill: bandColors[310]});
  tag(topTip, 'colorbar-upper-extension');
  const botTip = make(g, 'polygon', {points: L + ',' + yCbar(150) + ' ' + M + ',919 ' + R + ',' + yCbar(150), fill: bandColors[140]});
  tag(botTip, 'colorbar-lower-extension');
  colorbarLevels.slice(0, -1).forEach((t, i) => {
    const r = make(g, 'rect', {x: L, y: yCbar(colorbarLevels[i + 1]), width: R - L, height: yCbar(t) - yCbar(colorbarLevels[i + 1]) + 0.5, fill: bandColors[t]});
    tag(r, 'colorbar-band-' + t);
  });
  colorbarLevels.forEach(t => {
    const l = make(g, 'line', {x1: L, x2: R, y1: yCbar(t), y2: yCbar(t), stroke: '#fff', 'stroke-width': 2.6});
    tag(l, 'colorbar-level-line');
  });
  const outline = make(g, 'polygon', {points: L + ',' + yCbar(310) + ' ' + M + ',148 ' + R + ',' + yCbar(310) + ' ' + R + ',' + yCbar(150) + ' ' + M + ',919 ' + L + ',' + yCbar(150), fill: 'none', stroke: '#000', 'stroke-width': 2.8});
  tag(outline, 'colorbar-outline');
  colorbarTicks.forEach(t => {
    tickLine(g, R, yCbar(t), R + 13, yCbar(t), 2.8, 'colorbar-tick');
    txt(g, 1939, yCbar(t) + 11, String(t), TICK_FONT, 'start', 'colorbar-tick-label');
  });
  vText(g, 2042, 534, 'Temperature [K]', LABEL_FONT, 'colorbar-title');
})();
</script>
</body>
</html>
